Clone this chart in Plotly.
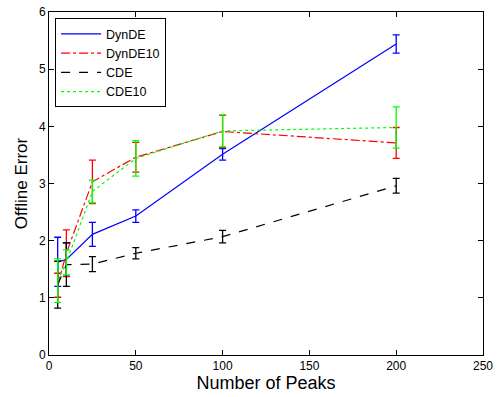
import plotly.graph_objects as go

peaks = [5, 10, 25, 50, 100, 200]

dynde = [1.63, 1.67, 2.11, 2.43, 3.51, 5.44]
dynde_err = [0.43, 0.29, 0.21, 0.11, 0.10, 0.16]

dynde10 = [1.22, 1.78, 3.03, 3.46, 3.91, 3.71]
dynde10_err = [0.21, 0.41, 0.38, 0.26, 0.28, 0.27]

cde = [1.23, 1.58, 1.59, 1.78, 2.07, 2.96]
cde_err = [0.41, 0.38, 0.13, 0.10, 0.11, 0.13]

cde10 = [1.30, 1.62, 2.86, 3.44, 3.92, 3.98]
cde10_err = [0.38, 0.22, 0.20, 0.31, 0.28, 0.36]

series = [
    ("DynDE", dynde, dynde_err, "#0000ff", "solid"),
    ("DynDE10", dynde10, dynde10_err, "#ff0000", "dashdot"),
    ("CDE", cde, cde_err, "#000000", "dash"),
    ("CDE10", cde10, cde10_err, "#00ff00", "dot"),
]

fig = go.Figure()
for name, vals, errs, color, dash in series:
    fig.add_trace(go.Scatter(
        x=peaks, y=vals, name=name, mode="lines",
        line=dict(color=color, width=1.2, dash=dash),
        error_y=dict(type="data", array=errs, visible=True,
                     color=color, thickness=1.3, width=3.5),
    ))

axis_common = dict(
    showgrid=False, zeroline=False, showline=True, linecolor="black",
    linewidth=1, mirror="ticks", ticks="inside", ticklen=5, automargin=False,
    tickcolor="black", tickfont=dict(family="Liberation Sans, Arial", size=12, color="black"),
)

fig.update_layout(
    width=497, height=397,
    margin=dict(l=49, r=14, t=12, b=42),
    paper_bgcolor="white", plot_bgcolor="white",
    font=dict(family="Liberation Sans, Arial", color="black"),
    xaxis=dict(range=[0, 250], tickvals=[0, 50, 100, 150, 200, 250],
               title=dict(text="Number of Peaks", font=dict(size=18), standoff=2),
               **axis_common),
    yaxis=dict(range=[0, 6], tickvals=[0, 1, 2, 3, 4, 5, 6],
               title=dict(text="Offline Error", font=dict(size=17), standoff=6),
               **axis_common),
    legend=dict(x=0.014, y=0.982, xanchor="left", yanchor="top",
                bgcolor="white", bordercolor="black", borderwidth=1,
                font=dict(size=12.5), tracegroupgap=0, itemwidth=40),
    showlegend=True,
)

fig.write_html("out.html")
